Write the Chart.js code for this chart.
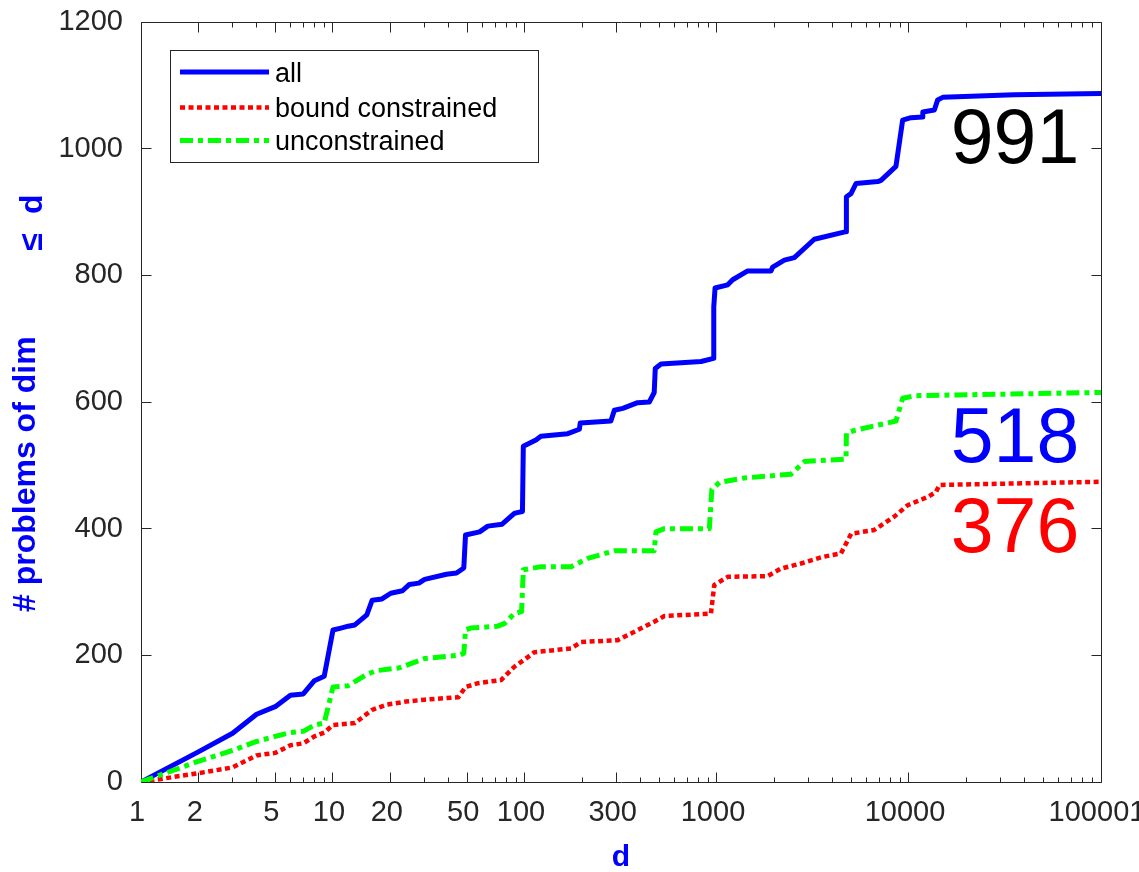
<!DOCTYPE html>
<html><head><meta charset="utf-8">
<script src="https://cdn.jsdelivr.net/npm/chart.js@4.4.1/dist/chart.umd.min.js"></script>
<style>html,body{margin:0;padding:0;background:#fff;}canvas{display:block;}</style>
</head><body>
<canvas id="c" width="1139" height="872"></canvas>
<script>
// ---- data ----
const allD = [1,2,3,4,5,6,7,8,9,10,11,12,13,15,16,18,20,23,25,28,30,39,44,48,49,58,64,76,88,90,97,98,114,121,167,192,194,280,292,323,386,444,471,477,511,826,960,962,977,1137,1207,1445,1911,1950,2243,2528,3213,4698,4720,4989,5296,6871,7148,8551,9267,10242,11785,11800,13548,14105,14975,35300,100000];
const allN = [0,48,77,107,119,137,139,160,167,240,243,246,248,264,287,289,298,302,312,314,320,328,330,338,390,395,404,407,424,425,427,530,540,546,550,557,567,570,587,590,599,600,615,653,660,664,669,750,780,785,793,807,807,813,824,828,857,869,924,929,945,948,950,972,1045,1049,1050,1058,1061,1077,1081,1085,1087];

const boundD = [1,2,3,4,5,6,7,8,9,10,13,16,19,24,30,45,49,57,75,88,99,112,174,196,304,471,532,930,968,1137,1832,2154,2735,3500,4424,5000,6592,8380,9840,12500,13830,14390,100000];
const boundN = [0,14,23,42,46,58,61,72,78,90,93,114,122,127,130,134,150,156,161,182,193,205,211,221,224,253,262,266,311,324,325,337,345,355,361,392,398,419,437,450,458,469,474];

const unconD = [1,2,3,4,5,6,7,8,9,10,12,15,17,22,30,45,48,49,52,72,78,88,96,98,107,121,174,212,292,471,481,532,912,940,1030,1387,2429,2850,4698,4720,5190,8551,9267,10872,100000];
const unconN = [0,33,50,64,72,78,80,90,93,150,152,170,176,180,195,200,203,240,243,246,250,266,269,335,337,340,340,353,365,365,395,400,400,462,473,480,486,506,510,551,555,570,606,610,615];

const seriesLabels = ['all', 'bound constrained', 'unconstrained'];
const xTickValues = [1,2,5,10,20,50,100,300,1000,10000,100001];
const yTickValues = [0,200,400,600,800,1000,1200];
const countLabels = ['991', '518', '376'];
const yTitleMain = '# problems of dim';
const yTitleTail = ['\u2264', 'd'];
const xTitle = 'd';

// ---- styling ----
const FONT = "'Liberation Sans', Arial, Helvetica, sans-serif";
const AXIS = '#262626';
const BLUE = '#0000ff', RED = '#ff0000', GREEN = '#00ff00';

const toPts = (d, n) => d.map((v, i) => ({x: v, y: n[i]}));

const axesPlugin = {
  id: 'matlabAxes',
  beforeDatasetsDraw(chart) {
    const {ctx, chartArea: a, scales: {x, y}} = chart;
    const L = Math.floor(a.left) + 0.5, R = Math.floor(a.right) + 0.5;
    const T = Math.floor(a.top) + 0.5, B = Math.floor(a.bottom) + 0.5;
    ctx.save();
    ctx.strokeStyle = AXIS; ctx.lineWidth = 1;
    ctx.beginPath();
    ctx.moveTo(L, T); ctx.lineTo(R, T); ctx.lineTo(R, B); ctx.lineTo(L, B); ctx.closePath();
    const minor = [];
    for (let k = 0; k < 5; k++) for (let m = 2; m < 10; m++) minor.push(m * Math.pow(10, k));
    const drawX = (v, len) => {
      const px = Math.floor(x.getPixelForValue(v)) + 0.5;
      ctx.moveTo(px, B); ctx.lineTo(px, B - len);
      ctx.moveTo(px, T); ctx.lineTo(px, T + len);
    };
    minor.forEach(v => { if (!xTickValues.includes(v)) drawX(v, 5); });
    xTickValues.forEach(v => drawX(v, 10));
    yTickValues.forEach(v => {
      const py = Math.floor(y.getPixelForValue(v)) + 0.5;
      ctx.moveTo(L, py); ctx.lineTo(L + 10, py);
      ctx.moveTo(R, py); ctx.lineTo(R - 10, py);
    });
    ctx.stroke();
    ctx.restore();
  },
  afterDraw(chart) {
    const {ctx, chartArea: a, scales: {x, y}} = chart;
    ctx.save();
    // axis titles
    ctx.fillStyle = BLUE;
    ctx.font = 'bold 30px ' + FONT;
    ctx.textAlign = 'center'; ctx.textBaseline = 'alphabetic';
    ctx.fillText(xTitle, (a.left + a.right) / 2, 866);
    ctx.font = 'bold 32px ' + FONT;
    ctx.save();
    ctx.translate(35, 612); ctx.rotate(-Math.PI / 2);
    ctx.textAlign = 'left';
    ctx.fillText(yTitleMain, 0, 0);
    ctx.restore();
    ctx.save();
    ctx.translate(42, 251); ctx.rotate(-Math.PI / 2);
    ctx.textAlign = 'left';
    ctx.fillText(yTitleTail[0], 0, 0);
    ctx.fillText(yTitleTail[1], 37, 0);
    ctx.restore();

    // count annotations
    ctx.font = '77px ' + FONT;
    ctx.textAlign = 'left'; ctx.textBaseline = 'alphabetic';
    const ax = x.getPixelForValue(16500);
    const anno = [[countLabels[0], 978, '#000000'], [countLabels[1], 505, BLUE], [countLabels[2], 363, RED]];
    anno.forEach(([t, v, c]) => { ctx.fillStyle = c; ctx.fillText(t, ax, y.getPixelForValue(v)); });

    // legend
    const lx = 170.5, ly = 50.5, lw = 368, lh = 112;
    ctx.fillStyle = '#ffffff';
    ctx.fillRect(lx, ly, lw, lh);
    ctx.strokeStyle = AXIS; ctx.lineWidth = 1;
    ctx.strokeRect(lx, ly, lw, lh);
    const rows = [72, 107.5, 140.5];
    ctx.font = '27px ' + FONT;
    ctx.textBaseline = 'alphabetic';
    chart.data.datasets.forEach((ds, i) => {
      const ry = rows[i];
      ctx.save();
      ctx.strokeStyle = ds.borderColor; ctx.lineWidth = ds.borderWidth;
      ctx.setLineDash(ds.borderDash || []);
      ctx.lineCap = 'butt';
      ctx.beginPath(); ctx.moveTo(180, ry); ctx.lineTo(269, ry); ctx.stroke();
      ctx.restore();
      ctx.fillStyle = '#000000';
      ctx.fillText(ds.label, 275, ry + 9.5);
    });
    ctx.restore();
  }
};

new Chart(document.getElementById('c'), {
  type: 'line',
  data: {
    datasets: [
      {label: seriesLabels[0], data: toPts(allD, allN), borderColor: BLUE, borderWidth: 5, order: 3},
      {label: seriesLabels[1], data: toPts(boundD, boundN), borderColor: RED, borderWidth: 4.5, borderDash: [5, 3.5], order: 2},
      {label: seriesLabels[2], data: toPts(unconD, unconN), borderColor: GREEN, borderWidth: 5, borderDash: [13, 5, 5, 5], order: 1}
    ]
  },
  options: {
    responsive: false,
    animation: false,
    devicePixelRatio: 1,
    layout: {padding: {top: 22, right: 38, left: 0, bottom: 0}},
    elements: {
      point: {radius: 0, hoverRadius: 0},
      line: {tension: 0, borderCapStyle: 'butt', borderJoinStyle: 'round', fill: false}
    },
    plugins: {legend: {display: false}, tooltip: {enabled: false}, title: {display: false}},
    scales: {
      x: {
        type: 'logarithmic', min: 1, max: 100001, position: 'bottom',
        afterBuildTicks: s => { s.ticks = xTickValues.map(v => ({value: v, major: false})); },
        afterFit: s => { s.height = 90; s.paddingLeft = 0; s.paddingRight = 0; },
        ticks: {autoSkip: false, maxRotation: 0, minRotation: 0, padding: 14, labelOffset: -4, color: AXIS,
                font: {family: FONT, size: 29}, callback: v => String(v)},
        grid: {display: false, drawTicks: false}, border: {display: false}
      },
      y: {
        type: 'linear', min: 0, max: 1200, position: 'left',
        afterBuildTicks: s => { s.ticks = yTickValues.map(v => ({value: v})); },
        afterFit: s => { s.width = 141; s.paddingTop = 0; s.paddingBottom = 0; },
        ticks: {padding: 18, color: AXIS, font: {family: FONT, size: 29}, callback: v => String(v)},
        grid: {display: false, drawTicks: false}, border: {display: false}
      }
    }
  },
  plugins: [axesPlugin]
});
</script>
</body></html>
